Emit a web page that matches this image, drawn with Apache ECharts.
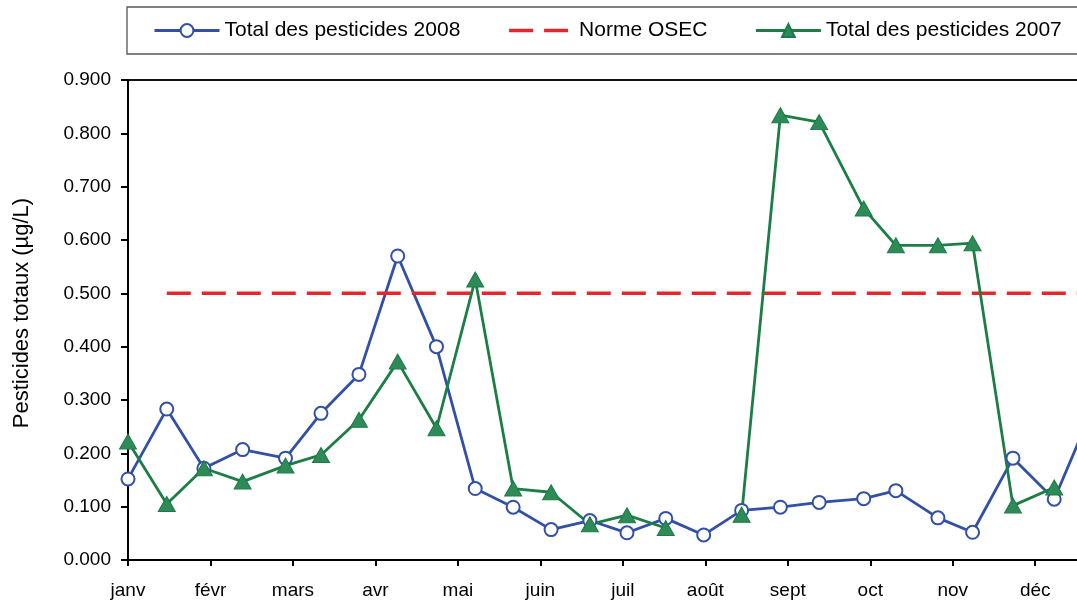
<!DOCTYPE html>
<html>
<head>
<meta charset="utf-8">
<script src="https://cdn.jsdelivr.net/npm/echarts@6/dist/echarts.min.js"></script>
<style>
html, body { margin: 0; padding: 0; background: #fff; }
#chart { width: 1077px; height: 600px; }
</style>
</head>
<body>
<div id="chart"></div>
<script>
// position des prélèvements, en mois depuis début janvier (0 = janv)
const positions = [0, 0.47, 0.92, 1.39, 1.91, 2.34, 2.80, 3.27, 3.74, 4.21, 4.67, 5.13, 5.60,
  6.05, 6.52, 6.98, 7.44, 7.91, 8.38, 8.92, 9.31, 9.82, 10.24, 10.73, 11.23, 11.70];
const mois = ['janv', 'févr', 'mars', 'avr', 'mai', 'juin', 'juil', 'août', 'sept', 'oct', 'nov', 'déc'];
const total2008 = [0.152, 0.283, 0.172, 0.207, 0.191, 0.275, 0.348, 0.570, 0.400, 0.134, 0.099, 0.057, 0.074,
  0.051, 0.078, 0.047, 0.093, 0.099, 0.108, 0.115, 0.130, 0.079, 0.052, 0.191, 0.114, 0.285];
const total2007 = [0.222, 0.105, 0.172, 0.147, 0.177, 0.197, 0.263, 0.372, 0.247, 0.526, 0.134, 0.127, 0.067,
  0.084, 0.060, null, 0.085, 0.834, 0.821, 0.659, 0.590, 0.590, 0.594, 0.102, 0.136, null];
const normeOsec = 0.5;
const yTicks = [0, 0.9, 0.1]; // min, max, pas

const font = "'Liberation Sans', Arial, sans-serif";
const blue = '#3350A8';
const red = '#E8262A';
const green = '#1B7F45';
const toPairs = (vals) => positions.map((p, i) => [p, vals[i]]);

const chart = echarts.init(document.getElementById('chart'));
chart.setOption({
  animation: false,
  textStyle: { fontFamily: font, color: '#000' },
  grid: {
    left: 128,
    right: -30, // la zone de tracé dépasse à droite comme sur l'original
    top: 80,
    bottom: 40,
    show: true,
    borderColor: '#111',
    borderWidth: 2,
    outerBoundsMode: 'none',
  },
  legend: {
    left: 127,
    top: 7,
    width: 1000, // pas de retour à la ligne, le cadre sort à droite
    padding: [13, 26, 13, 26],
    borderColor: '#555',
    borderWidth: 1.3,
    itemWidth: 65,
    itemHeight: 16,
    itemGap: 47,
    textStyle: { fontSize: 21, color: '#000', fontFamily: font },
    data: [
      { name: 'Total des pesticides 2008', lineStyle: { width: 3 } },
      { name: 'Norme OSEC', itemStyle: { opacity: 0 }, lineStyle: { width: 3.5, type: [24, 11] } },
      { name: 'Total des pesticides 2007', lineStyle: { width: 3 } },
    ],
  },
  xAxis: {
    type: 'value',
    min: 0,
    max: 11.87,
    interval: 1,
    splitLine: { show: false },
    axisLine: { show: true, lineStyle: { color: '#000', width: 2 } },
    axisTick: { show: true, length: 6, lineStyle: { color: '#000', width: 2 } },
    axisLabel: {
      margin: 21,
      fontSize: 19,
      color: '#000',
      fontFamily: font,
      showMaxLabel: false,
      formatter: (v) => (Number.isInteger(v) && mois[v]) || '',
    },
  },
  yAxis: {
    type: 'value',
    min: yTicks[0],
    max: yTicks[1],
    interval: yTicks[2],
    name: 'Pesticides totaux (µg/L)',
    nameLocation: 'middle',
    nameGap: 95,
    nameTextStyle: { fontSize: 22, color: '#000', fontFamily: font, padding: [0, 0, 0, 14] },
    splitLine: { show: false },
    axisLine: { show: true, lineStyle: { color: '#000', width: 2 } },
    axisTick: { show: true, length: 7, lineStyle: { color: '#000', width: 2 } },
    axisLabel: {
      margin: 17,
      fontSize: 19,
      color: '#000',
      fontFamily: font,
      formatter: (v) => v.toFixed(3),
    },
  },
  series: [
    {
      name: 'Total des pesticides 2008',
      type: 'line',
      data: toPairs(total2008),
      symbol: 'circle',
      symbolSize: 13,
      itemStyle: { color: '#fff', borderColor: blue, borderWidth: 2 },
      lineStyle: { color: blue, width: 2.8 },
    },
    {
      name: 'Norme OSEC',
      type: 'line',
      data: [[positions[1], normeOsec], [positions[positions.length - 1], normeOsec]],
      symbol: 'none',
      itemStyle: { color: red },
      lineStyle: { color: red, width: 3.5, type: [24, 11] },
    },
    {
      name: 'Total des pesticides 2007',
      type: 'line',
      data: toPairs(total2007),
      symbol: 'triangle',
      symbolSize: [17, 15],
      itemStyle: { color: '#2E8B57', borderColor: '#1B7A45', borderWidth: 1 },
      lineStyle: { color: green, width: 2.8 },
    },
  ],
});
</script>
</body>
</html>
